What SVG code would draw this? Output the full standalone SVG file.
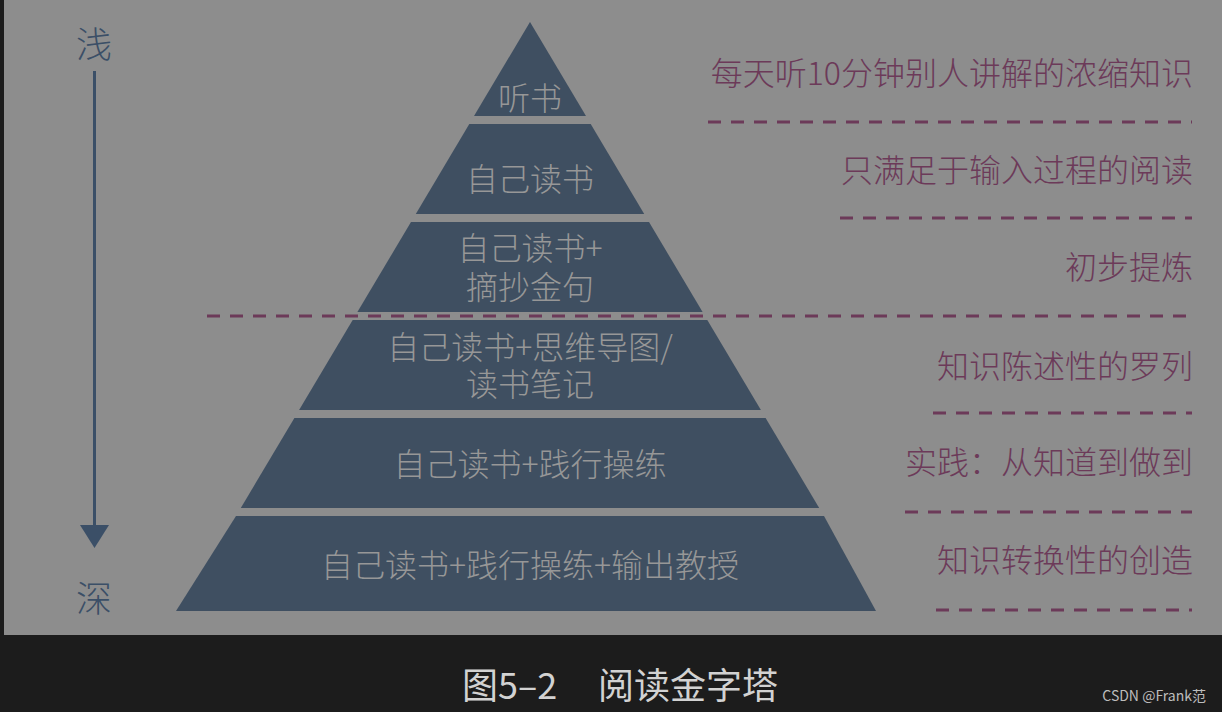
<svg xmlns="http://www.w3.org/2000/svg" width="1222" height="712" viewBox="0 0 1222 712">
<style>
.layer{fill:#3f4f61}
.pt{font-family:"Noto Sans CJK SC","Noto Sans",sans-serif;font-size:32px;font-weight:300;fill:#979797;text-anchor:middle;dominant-baseline:central}
.rt{font-family:"Noto Sans CJK SC","Noto Sans",sans-serif;font-size:32px;font-weight:300;fill:#6c3a59;text-anchor:end;dominant-baseline:central}
.dash{stroke:#6c3a59;stroke-width:3;stroke-dasharray:13 10;fill:none}
.side{font-family:"Noto Sans CJK SC","Noto Sans",sans-serif;font-size:36px;font-weight:300;fill:#3b4f67;text-anchor:middle;dominant-baseline:central}
</style>
<rect x="0" y="0" width="1222" height="712" fill="#1c1c1c"/>
<rect x="4" y="0" width="1218" height="635" fill="#8d8d8d"/>

<g id="axis">
<text class="side" x="94" y="42">浅</text>
<line x1="94.5" y1="71" x2="94.5" y2="527" stroke="#3b4f67" stroke-width="3"/>
<polygon points="80,525 109,525 94.5,548" fill="#3b4f67"/>
<text class="side" x="94" y="596">深</text>
</g>

<g id="layer1">
<polygon class="layer" points="530,22 586,116 474,116"/>
<text class="pt" x="530" y="96">听书</text>
</g>
<g id="layer2">
<polygon class="layer" points="469.3,124 590.7,124 644.2,214 415.8,214"/>
<text class="pt" x="530" y="177">自己读书</text>
</g>
<g id="layer3">
<polygon class="layer" points="411,222 649,222 702.6,312 357.4,312"/>
<text class="pt" x="530" y="246">自己读书+<tspan x="530" dy="39">摘抄金句</tspan></text>
</g>
<g id="layer4">
<polygon class="layer" points="352.7,320 707.3,320 760.9,410 299.1,410"/>
<text class="pt" x="530" y="345">自己读书+思维导图/<tspan x="530" dy="37">读书笔记</tspan></text>
</g>
<g id="layer5">
<polygon class="layer" points="294.4,418 765.6,418 819.2,508 240.8,508"/>
<text class="pt" x="530" y="462">自己读书+践行操练</text>
</g>
<g id="layer6">
<polygon class="layer" points="236,516 824,516 876,611 176,611"/>
<text class="pt" x="530" y="563">自己读书+践行操练+输出教授</text>
</g>

<g id="connectors">
<line class="dash" x1="708" y1="122" x2="1192" y2="122"/>
<line class="dash" x1="840" y1="218" x2="1192" y2="218"/>
<line class="dash" x1="207" y1="316" x2="1192" y2="316"/>
<line class="dash" x1="933" y1="413" x2="1192" y2="413"/>
<line class="dash" x1="905" y1="512" x2="1192" y2="512"/>
<line class="dash" x1="936" y1="610" x2="1192" y2="610"/>
</g>

<g id="labels">
<text class="rt" x="1193" y="71">每天听10分钟别人讲解的浓缩知识</text>
<text class="rt" x="1193" y="168">只满足于输入过程的阅读</text>
<text class="rt" x="1193" y="265">初步提炼</text>
<text class="rt" x="1193" y="364">知识陈述性的罗列</text>
<text class="rt" x="1193" y="460">实践：从知道到做到</text>
<text class="rt" x="1193" y="558">知识转换性的创造</text>
</g>

<g id="caption">
<text x="462" y="683" font-family="'Noto Sans CJK SC','Noto Sans',sans-serif" font-size="36" fill="#d2d2d2" dominant-baseline="central">图5–2</text>
<text x="598" y="683" font-family="'Noto Sans CJK SC','Noto Sans',sans-serif" font-size="36" fill="#d2d2d2" dominant-baseline="central">阅读金字塔</text>
<text x="1206" y="695" font-family="'Noto Sans CJK SC','Noto Sans',sans-serif" font-size="14" fill="#bdbdbd" text-anchor="end" dominant-baseline="central">CSDN @Frank范</text>
</g>
</svg>
